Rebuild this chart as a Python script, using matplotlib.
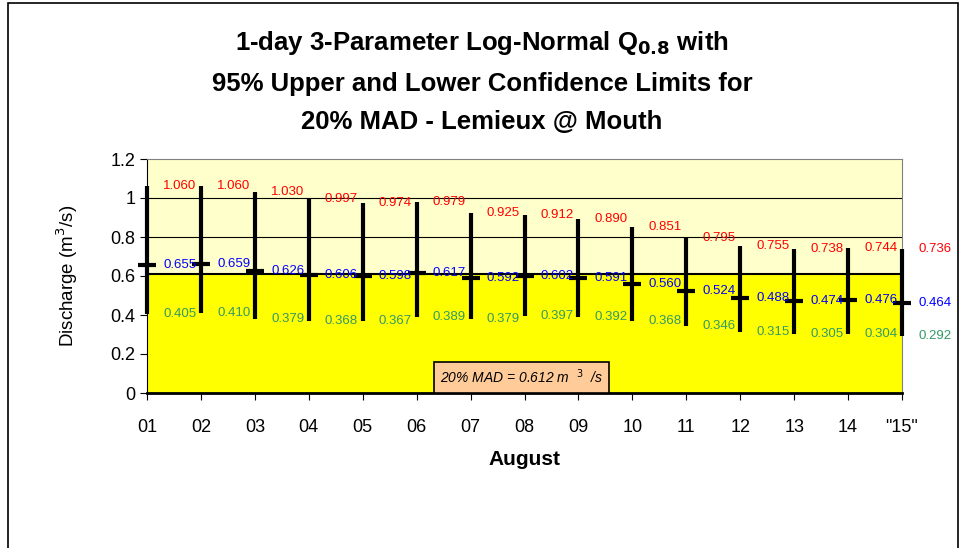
#chart of 1-day Q0.8 with 95% confidence limits
import matplotlib.pyplot as plt
from matplotlib.patches import Rectangle

plt.rcParams['font.family'] = ['Liberation Sans', 'DejaVu Sans']

#data
days = ["01", "02", "03", "04", "05", "06", "07", "08", "09", "10", "11", "12", "13", "14", '"15"']
upper = [1.060, 1.060, 1.030, 0.997, 0.974, 0.979, 0.925, 0.912, 0.890, 0.851, 0.795, 0.755, 0.738, 0.744, 0.736]
q08 = [0.655, 0.659, 0.626, 0.606, 0.598, 0.617, 0.592, 0.602, 0.591, 0.560, 0.524, 0.488, 0.474, 0.476, 0.464]
lower = [0.405, 0.410, 0.379, 0.368, 0.367, 0.389, 0.379, 0.397, 0.392, 0.368, 0.346, 0.315, 0.305, 0.304, 0.292]
mad = 0.612
yticks = [0, 0.2, 0.4, 0.6, 0.8, 1.0, 1.2]
ytick_labels = ["0", "0.2", "0.4", "0.6", "0.8", "1", "1.2"]

x = list(range(len(days)))

fig = plt.figure(figsize=(9.64, 5.48), dpi=100)
#outer frame
fig.patches.append(Rectangle((8/964, -0.05), 950/964, 1.05 - 3/548, transform=fig.transFigure,
                             fill=False, edgecolor='black', linewidth=1.2))

ax = fig.add_axes([147/964, 155/548, 755/964, 234/548])
ax.set_facecolor('#FFFFCC')
ax.set_xlim(0, len(days) - 1)
ax.set_ylim(0, 1.2)

#gridlines, then the yellow area below MAD covers the low ones
for t in yticks[1:-1]:
  ax.axhline(t, color='black', linewidth=0.8, zorder=1)
ax.fill_between([0, len(days) - 1], 0, mad, color='#FFFF00', zorder=2)
ax.axhline(mad, color='black', linewidth=1.5, zorder=3)

#confidence bars and Q0.8 ticks
ax.vlines(x, lower, upper, color='black', linewidth=3, zorder=5, clip_on=False)
ax.plot(x, q08, linestyle='none', marker='_', markersize=13, markeredgewidth=3,
        color='black', zorder=6, clip_on=False)

#value labels to the right of each bar
for i in x:
  ax.text(i + 0.3, upper[i], "%.3f" % upper[i], color='#FF0000', fontsize=9.5, va='center', zorder=7)
  ax.text(i + 0.3, q08[i], "%.3f" % q08[i], color='#0000FF', fontsize=9.5, va='center', zorder=7)
  ax.text(i + 0.3, lower[i], "%.3f" % lower[i], color='#339966', fontsize=9.5, va='center', zorder=7)

#MAD box
ax.text(0.496, 0.068, "20% MAD = 0.612 m  $^{3}$  /s", transform=ax.transAxes, fontsize=10,
        style='italic', ha='center', va='center', zorder=8,
        bbox=dict(boxstyle='square,pad=0.45', facecolor='#FFCC99', edgecolor='black', linewidth=1.2))

ax.set_xticks(x)
ax.set_xticklabels(days, fontsize=13)
ax.set_yticks(yticks)
ax.set_yticklabels(ytick_labels, fontsize=13)
ax.tick_params(axis='x', direction='out', length=5, pad=14)
ax.tick_params(axis='y', direction='out', length=5)

ax.spines['top'].set_color('#808080')
ax.spines['right'].set_color('#808080')
ax.spines['left'].set_color('black')
ax.spines['bottom'].set_color('black')
ax.spines['bottom'].set_linewidth(2)

ax.set_ylabel("Discharge (m$^3$/s)", fontsize=13.5, labelpad=22)
ax.set_xlabel("August", fontsize=15, fontweight='bold', labelpad=10)

#title lines
fig.text(0.5, 1 - 43/548, "1-day 3-Parameter Log-Normal Q$_{\\mathbf{0.8}}$ with", ha='center', va='center',
         fontsize=18.5, fontweight='bold')
fig.text(0.5, 1 - 84/548, "95% Upper and Lower Confidence Limits for", ha='center', va='center',
         fontsize=18.5, fontweight='bold')
fig.text(0.5, 1 - 122/548, "20% MAD - Lemieux @ Mouth", ha='center', va='center',
         fontsize=18.5, fontweight='bold')

plt.savefig("out.png", dpi=100)
